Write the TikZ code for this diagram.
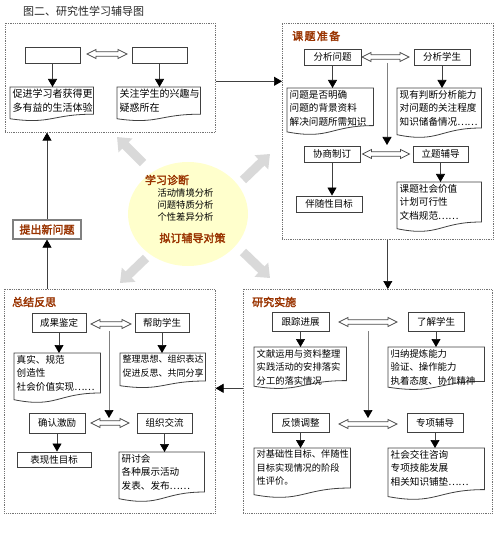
\documentclass[tikz,border=0pt]{standalone}
\usepackage{fontspec}
\setmainfont{Noto Sans CJK SC}[AutoFakeBold=2.5]
\usetikzlibrary{arrows.meta,calc,shapes.geometric}
\definecolor{brn}{HTML}{993300}
\definecolor{pale}{HTML}{FFFFCC}
\definecolor{lgray}{HTML}{D9D9D9}
\tikzset{
  x=1pt,y=-1pt,
  bigbox/.style={draw=black!55, line width=0.6pt, dash pattern=on 0.9pt off 0.9pt, inner sep=0pt, anchor=north west},
  lbl/.style={draw=black!75, line width=0.9pt, fill=white, inner sep=0pt, font=\fontsize{9.5}{11}\selectfont},
  docarea/.style={inner sep=0pt, anchor=north west},
  docline/.style={draw=black!75, line width=0.8pt, fill=white},
  doctext/.style={inner sep=0pt, anchor=north west, align=left, font=\fontsize{9.6}{13.5}\selectfont},
  arr/.style={draw=black!75, line width=0.7pt, -{Triangle[width=9pt,length=8pt,color=black]}},
  varr/.style={draw=black!50, line width=0.7pt, -{Triangle[width=9pt,length=8pt,color=black]}},
  dbl/.style={draw=black!70, line width=0.7pt, fill=white},
  sectitle/.style={font=\fontsize{11}{13}\selectfont\bfseries, text=brn, anchor=west, inner sep=0pt},
  ctext/.style={font=\fontsize{9.3}{11}\selectfont, inner sep=0pt},
  ctitle/.style={font=\fontsize{11}{13}\selectfont\bfseries, text=brn, inner sep=0pt},
  garr/.style={draw=lgray, line width=9pt, -{Triangle[width=19pt,length=12pt]}},
}
\newcommand{\dblarr}[3]{%
  \draw[dbl] ({#1-#3/2},#2) -- ++(9,-4.5) -- ++(0,2.3) -- ++({#3-18},0) -- ++(0,-2.3) -- ++(9,4.5)
    -- ++(-9,4.5) -- ++(0,-2.3) -- ++({18-#3},0) -- ++(0,2.3) -- cycle;}
\newcommand{\docbox}[7][]{%
  \node[docarea, minimum width=#5pt, minimum height=#6pt] (#2) at (#3,#4) {};
  \draw[docline] (#2.north west) -- (#2.north east) -- ($(#2.north east)+(0,0.80*#6)$)
    .. controls ($(#2.north west)+(0.5*#5,0.80*#6)$) and ($(#2.north west)+(0.5*#5,1.107*#6)$)
    .. ($(#2.north west)+(0,0.934*#6)$) -- cycle;
  \node[doctext,#1] (#2t) at ($(#2.north west)+(2.5,2)$) {#7};}
\begin{document}
\begin{tikzpicture}
\useasboundingbox (0,0) rectangle (500,537);

% title
\node[anchor=west, inner sep=0pt, font=\fontsize{11}{13}\selectfont, text=black!85] (title) at (23,11) {图二、研究性学习辅导图};

% big dotted boxes
\node[bigbox, minimum width=210pt, minimum height=109pt] (tl) at (5,23) {};
\node[bigbox, minimum width=211pt, minimum height=216pt] (kt) at (282,23) {};
\node[bigbox, minimum width=249pt, minimum height=224pt] (ys) at (243,289) {};
\node[bigbox, minimum width=211pt, minimum height=224pt] (zj) at (4,289) {};

% grey arrows and diagnosis circle
\coordinate (g1a) at (143,163); \coordinate (g1b) at (117,137);
\coordinate (g2a) at (243,180); \coordinate (g2b) at (270,154);
\coordinate (g3a) at (243,252); \coordinate (g3b) at (270,278);
\coordinate (g4a) at (146,258); \coordinate (g4b) at (120,283);
\draw[garr] (g1a) -- (g1b);
\draw[garr] (g2a) -- (g2b);
\draw[garr] (g3a) -- (g3b);
\draw[garr] (g4a) -- (g4b);
\node[ellipse, fill=pale, draw=none, minimum width=120pt, minimum height=104pt, inner sep=0pt] (diag) at (188,214) {};
\node[ctitle] (cd1) at (167,180) {学习诊断};
\node[ctext] (cd2) at (185.5,193) {活动情境分析};
\node[ctext] (cd3) at (185.5,205) {问题特质分析};
\node[ctext] (cd4) at (185.5,217) {个性差异分析};
\node[ctitle] (cd5) at (192.5,238) {拟订辅导对策};

% top-left block
\node[lbl, minimum width=55pt, minimum height=16pt] (e1) at (52.5,55) {};
\node[lbl, minimum width=55pt, minimum height=16pt] (e2) at (159.5,55) {};
\dblarr{107}{54}{40}
\docbox[font=\fontsize{10}{14}\selectfont]{d1}{10}{87}{83}{34}{促进学习者获得更\\多有益的生活体验}
\docbox[font=\fontsize{10}{14}\selectfont]{d2}{117}{87}{83}{34}{关注学生的兴趣与\\疑惑所在}
\draw[arr] (e1.south) -- (e1.south |- d1.north);
\draw[arr] (e2.south) -- (e2.south |- d2.north);

% 课题准备
\node[sectitle] (kttitle) at (292,36) {\addfontfeature{LetterSpace=12}课题准备};
\node[lbl, minimum width=57pt, minimum height=16pt] (b1) at (332.5,57) {分析问题};
\node[lbl, minimum width=56pt, minimum height=16pt] (b2) at (442,57) {分析学生};
\dblarr{385.5}{57}{47}
\coordinate (v1s) at (387,63); \coordinate (v1e) at (387,145);
\draw[varr] (v1s) -- (v1e);
\docbox{d3}{287}{88}{86}{47}{问题是否明确\\问题的背景资料\\解决问题所需知识}
\docbox{d4}{397}{88}{84}{50}{现有判断分析能力\\对问题的关注程度\\知识储备情况……}
\node[lbl, minimum width=56pt, minimum height=16pt] (b3) at (332,154) {协商制订};
\node[lbl, minimum width=55pt, minimum height=16pt] (b4) at (440.5,154) {立题辅导};
\dblarr{386}{154}{47}
\node[lbl, minimum width=66pt, minimum height=16pt] (b5) at (329,204) {伴随性目标};
\docbox{d5}{397}{182}{84}{50}{课题社会价值\\计划可行性\\文档规范……}
\draw[arr] (b1.south) -- (b1.south |- d3.north);
\draw[arr] (b2.south) -- (b2.south |- d4.north);
\draw[arr] (b3.south) -- (b3.south |- b5.north);
\draw[arr] (b4.south) -- (b4.south |- d5.north);

% 研究实施
\node[sectitle] (ystitle) at (252,302) {研究实施};
\node[lbl, minimum width=57pt, minimum height=19pt] (c1) at (300.5,321.5) {跟踪进展};
\node[lbl, minimum width=56pt, minimum height=19pt] (c2) at (436,321.5) {了解学生};
\dblarr{368}{322}{58}
\coordinate (v2s) at (368,331); \coordinate (v2e) at (368,418);
\draw[varr] (v2s) -- (v2e);
\docbox[font=\fontsize{9.3}{13.5}\selectfont]{d6}{254}{347}{92}{42}{文献运用与资料整理\\实践活动的安排落实\\分工的落实情况}
\docbox[font=\fontsize{9.4}{13.5}\selectfont]{d7}{388}{347}{96}{43}{归纳提炼能力\\验证、操作能力\\执着态度、协作精神}
\node[lbl, minimum width=57pt, minimum height=19pt] (c3) at (300.5,422.5) {反馈调整};
\node[lbl, minimum width=56pt, minimum height=19pt] (c4) at (435,422.5) {专项辅导};
\dblarr{368}{424}{58}
\docbox[font=\fontsize{9.2}{13.5}\selectfont]{d8}{254}{448}{96}{50}{对基础性目标、伴随性\\目标实现情况的阶段\\性评价。}
\docbox{d9}{388}{448}{96}{52}{社会交往咨询\\专项技能发展\\相关知识铺垫……}
\draw[arr] (c1.south) -- (c1.south |- d6.north);
\draw[arr] (c2.south) -- (c2.south |- d7.north);
\draw[arr] (c3.south) -- (c3.south |- d8.north);
\draw[arr] (c4.south) -- (c4.south |- d9.north);

% 总结反思
\node[sectitle] (zjtitle) at (12,302) {总结反思};
\node[lbl, minimum width=54pt, minimum height=19pt] (s1) at (59,322.5) {成果鉴定};
\node[lbl, minimum width=54pt, minimum height=19pt] (s2) at (162,322.5) {帮助学生};
\dblarr{111}{324}{40}
\coordinate (v3s) at (109,331); \coordinate (v3e) at (109,418);
\draw[varr] (v3s) -- (v3e);
\docbox{d10}{14}{353}{86}{50}{真实、规范\\创造性\\社会价值实现……}
\docbox[font=\fontsize{9}{13.5}\selectfont]{d11}{120}{353}{85}{35}{整理思想、组织表达\\促进反思、共同分享}
\node[lbl, minimum width=56pt, minimum height=20pt] (s3) at (57,423) {确认激励};
\node[lbl, minimum width=55pt, minimum height=20pt] (s4) at (164.5,423) {组织交流};
\dblarr{110}{423}{38}
\node[lbl, minimum width=74pt, minimum height=15pt] (s5) at (54,459.5) {表现性目标};
\docbox{d12}{119}{452}{85}{50}{研讨会\\各种展示活动\\发表、发布……}
\draw[arr] (s1.south) -- (s1.south |- d10.north);
\draw[arr] (s2.south) -- (s2.south |- d11.north);
\draw[arr] (s3.south) -- (s3.south |- s5.north);
\draw[arr] (s4.south) -- (s4.south |- d12.north);

% 提出新问题
\node[lbl, draw=black!50, line width=1.2pt, minimum width=68pt, minimum height=19pt,
      font=\fontsize{11}{13}\selectfont\bfseries, text=brn] (nq) at (47,229.5) {提出新问题};

% main connectors
\draw[arr] ([yshift=-3.5pt]tl.east) -- ([yshift=-3.5pt]tl.east -| kt.west);
\draw[arr] (kt.south) -- (kt.south |- ys.north);
\draw[arr] ([yshift=13pt]ys.west) -- ([yshift=13pt]ys.west -| zj.east);
\draw[arr] (nq.south |- zj.north) -- (nq.south);
\draw[arr] (nq.north) -- (nq.north |- tl.south);
\end{tikzpicture}
\end{document}
